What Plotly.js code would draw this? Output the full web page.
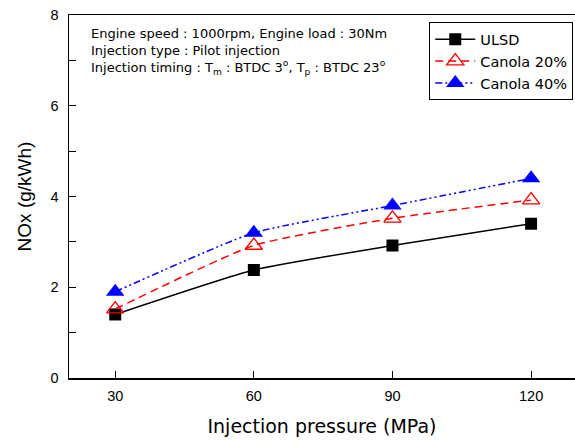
<!DOCTYPE html>
<html><head><meta charset="utf-8">
<script src="https://cdn.plot.ly/plotly-3.0.1.min.js"></script>
<style>html,body{margin:0;padding:0;background:#fff}#chart{width:575px;height:441px}</style>
</head><body><div id="chart"></div>
<script>
const pressure = [30, 60, 90, 120];
const ulsd = [1.40, 2.38, 2.92, 3.40];
const canola20 = [1.52, 2.92, 3.52, 3.92];
const canola40 = [1.90, 3.20, 3.80, 4.40];
const seriesNames = ['ULSD', 'Canola 20%', 'Canola 40%'];
const yTicks = [0, 2, 4, 6, 8];
const xTicks = [30, 60, 90, 120];

const traces = [
  {x: pressure, y: ulsd, name: seriesNames[0], mode: 'lines+markers',
   line: {color: 'black', width: 1.5, shape: 'spline', smoothing: 0.5},
   marker: {symbol: 'square', size: 12, color: 'black'}},
  {x: pressure, y: canola20, name: seriesNames[1], mode: 'lines+markers',
   line: {color: '#ff0000', width: 1.5, dash: '8px,5px', shape: 'spline', smoothing: 0.5},
   marker: {symbol: 'triangle-up-open', size: 15, color: '#ff0000', line: {width: 1.3}}},
  {x: pressure, y: canola40, name: seriesNames[2], mode: 'lines+markers',
   line: {color: '#0000ff', width: 1.5, dash: '7px,3px,2px,3px,2px,3px', shape: 'spline', smoothing: 0.5},
   marker: {symbol: 'triangle-up', size: 16, color: '#0000ff'}}
];

const layout = {
  width: 575, height: 441,
  margin: {l: 69, r: 0, t: 15, b: 63},
  paper_bgcolor: 'white', plot_bgcolor: 'white',
  showlegend: true,
  legend: {x: 0.712, y: 0.98, xanchor: 'left', yanchor: 'top',
    bgcolor: 'white', bordercolor: 'black', borderwidth: 1,
    font: {family: 'DejaVu Sans, Verdana, sans-serif', size: 14.5, color: 'black'},
    tracegroupgap: 0, itemwidth: 40},
  xaxis: {range: [20, 129.5], tickvals: xTicks, ticktext: xTicks.map(String),
    ticks: 'inside', ticklen: 7, tickwidth: 1, tickcolor: 'black',
    showline: true, linecolor: 'black', linewidth: 1.5, mirror: true,
    showgrid: false, zeroline: false, ticklabelstandoff: 4,
    tickfont: {family: 'Liberation Sans, Arial, sans-serif', size: 14.5, color: 'black'},
    title: {text: 'Injection pressure (MPa)', standoff: 17,
      font: {family: 'DejaVu Sans, Verdana, sans-serif', size: 19, color: 'black'}}},
  yaxis: {range: [0, 8], tickvals: yTicks, ticktext: yTicks.map(String),
    ticks: 'inside', ticklen: 7, tickwidth: 1, tickcolor: 'black',
    minor: {dtick: 1, ticks: 'inside', ticklen: 7, tickcolor: 'black'},
    showline: true, linecolor: 'black', linewidth: 1.5,
    showgrid: false, zeroline: false, ticklabelstandoff: 6,
    tickfont: {family: 'Liberation Sans, Arial, sans-serif', size: 14.5, color: 'black'},
    title: {text: 'NOx (g/kWh)', standoff: 14,
      font: {family: 'Liberation Sans, Arial, sans-serif', size: 19, color: 'black'}}},
  annotations: [{
    xref: 'paper', yref: 'paper', x: 0.040, y: 0.975, xanchor: 'left', yanchor: 'top',
    align: 'left', showarrow: false,
    font: {family: 'DejaVu Sans, Verdana, sans-serif', size: 13, color: 'black'},
    text: 'Engine speed : 1000rpm, Engine load : 30Nm<br>Injection type : Pilot injection<br>Injection timing : T<sub>m</sub> : BTDC 3<sup>o</sup>, T<sub>p</sub> : BTDC 23<sup>o</sup>'
  }]
};

Plotly.newPlot('chart', traces, layout, {displayModeBar: false, staticPlot: true});
</script></body></html>
